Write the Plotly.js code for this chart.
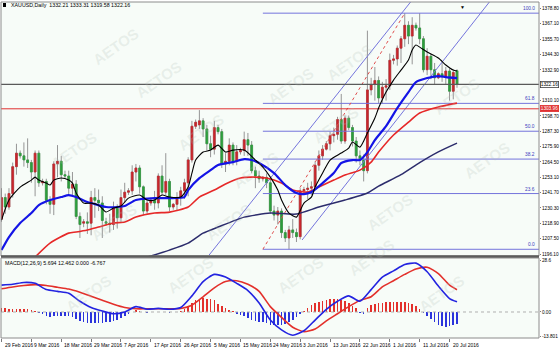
<!DOCTYPE html>
<html><head><meta charset="utf-8">
<script src="https://cdn.plot.ly/plotly-3.0.1.min.js"></script>
<style>html,body{margin:0;padding:0;background:#fff}#chart{width:560px;height:352px}</style>
</head><body><div id="chart"></div>
<script>
// ---- XAUUSD daily bars (index 0 = 29 Feb 2016 ... 122 = 22 Jul 2016, broker has Sunday bars)
const opens  = [1222,1238,1231,1241,1261,1271,1269,1266,1264,1257,1271,1249,1250,1236,1233,1263,1265,1255,1254,1245,1248,1224,1219,1220,1219,1238,1236,1234,1220,1219,1218,1230,1223,1238,1242,1243,1257,1260,1246,1228,1234,1236,1234,1254,1242,1250,1231,1233,1238,1243,1249,1266,1291,1292,1295,1289,1278,1274,1290,1287,1263,1265,1277,1265,1272,1273,1281,1277,1258,1254,1252,1253,1249,1228,1225,1228,1212,1208,1214,1212,1209,1243,1244,1245,1246,1262,1269,1274,1278,1284,1285,1296,1280,1297,1290,1280,1269,1266,1258,1318,1322,1325,1312,1320,1321,1340,1341,1349,1356,1366,1358,1366,1364,1356,1333,1343,1333,1327,1330,1328,1332,1317,1332.21];
const highs  = [1245,1241,1245,1264,1278,1273,1279,1282,1266,1273,1273,1252,1252,1239,1265,1277,1269,1258,1258,1257,1251,1227,1222,1227,1243,1245,1244,1239,1223,1226,1235,1233,1244,1249,1245,1262,1263,1262,1247,1237,1238,1243,1256,1262,1271,1252,1234,1242,1246,1252,1268,1295,1296,1303,1297,1292,1284,1295,1292,1289,1271,1282,1279,1277,1275,1287,1286,1280,1261,1258,1254,1256,1252,1232,1231,1230,1214,1217,1222,1215,1245,1246,1249,1250,1265,1273,1277,1280,1287,1290,1298,1315,1299,1299,1292,1283,1273,1270,1362,1327,1335,1328,1324,1326,1345,1344,1351,1358,1375,1369,1372,1368,1375,1358,1349,1345,1338,1331,1338,1335,1334,1333,1333.31];
const lows   = [1220,1226,1229,1238,1255,1267,1261,1260,1249,1239,1246,1247,1233,1226,1225,1253,1250,1252,1240,1240,1222,1208,1216,1211,1210,1223,1228,1208,1217,1212,1214,1215,1219,1234,1240,1240,1250,1241,1225,1226,1232,1229,1230,1240,1240,1228,1229,1228,1232,1237,1239,1264,1289,1289,1283,1273,1268,1270,1285,1260,1257,1262,1262,1262,1270,1269,1269,1256,1245,1249,1250,1245,1226,1221,1218,1208,1205,1199.6,1208,1205,1207,1240,1237,1240,1244,1258,1266,1273,1273,1279,1281,1278,1278,1288,1276,1264,1262,1250,1256,1314,1310,1308,1308,1310,1318,1337,1336,1338,1350,1352,1337,1362,1352,1331,1329,1326,1322,1326,1324,1322,1310,1311,1319.58];
const closes = [1238,1231,1241,1261,1271,1269,1266,1264,1257,1271,1249,1250,1236,1233,1263,1265,1255,1254,1245,1248,1224,1218,1220,1219,1238,1236,1234,1221,1219,1218,1230,1223,1238,1242,1243,1257,1260,1246,1228,1234,1236,1234,1254,1242,1250,1231,1233,1238,1243,1249,1266,1291,1294,1295,1289,1278,1274,1290,1287,1263,1265,1277,1265,1272,1273,1281,1277,1258,1254,1252,1253,1249,1228,1225,1228,1212,1208,1214,1212,1209,1243,1244,1245,1246,1262,1269,1274,1278,1284,1285,1296,1280,1297,1290,1280,1269,1266,1258,1318,1322,1325,1312,1320,1321,1340,1341,1349,1356,1366,1358,1366,1364,1356,1333,1343,1333,1327,1330,1328,1332,1317,1331,1322.16];

// x-axis tick labels (bar index of each label)
const tickIdx    = [0,8,16,24,32,40,48,56,64,72,80,88,96,104,112,120];
const tickLabels = ['29 Feb 2016','9 Mar 2016','18 Mar 2016','29 Mar 2016','7 Apr 2016','17 Apr 2016','26 Apr 2016','5 May 2016','15 May 2016','24 May 2016','3 Jun 2016','13 Jun 2016','22 Jun 2016','1 Jul 2016','11 Jul 2016','20 Jul 2016'];

// price scale labels
const priceTicks = [1378.8,1367.1,1355.7,1344.3,1332.9,1310.1,1298.7,1287.3,1275.9,1264.5,1253.1,1241.7,1230.3,1218.9,1207.5,1196.1];

// moving averages (bar index, price)
const blackIdx = [0,2,5,8,9,10,12,13,14,16,18,19,20,22,24,26,28,30,32,34,37,39,41,43,45,48,50,51,52,54,56,58,60,62,65,68,70,72,74,75,77,79,81,83,84,86,88,91,93,94,96,98,100,101,103,105,107,109,110,111,112,114,117,119,121,122];
const blackVal = [1221.3,1236.2,1245.8,1251.0,1253.2,1251.0,1248.8,1247.3,1251.0,1252.5,1251.0,1248.8,1241.4,1233.9,1233.9,1232.4,1227.3,1230.2,1231.7,1237.6,1239.9,1236.2,1236.2,1239.9,1238.4,1238.4,1245.8,1256.2,1265.9,1271.8,1273.3,1277.0,1271.8,1273.3,1273.3,1265.9,1260.7,1253.2,1243.6,1236.2,1226.5,1223.5,1233.9,1238.4,1245.8,1256.2,1265.9,1271.1,1274.8,1279.3,1275.5,1285.9,1297.1,1304.5,1316.4,1325.3,1332.7,1340.2,1347.6,1351.3,1349.8,1346.1,1341.7,1336.5,1332.7,1332.0];
const blueIdx  = [0,2,5,8,10,13,16,18,20,23,26,28,31,33,36,41,45,49,50,53,56,58,62,65,67,69,73,76,79,81,83,86,89,91,94,96,98,100,103,106,109,111,114,117,119,122];
const blueVal  = [1199.0,1208.7,1219.1,1226.5,1232.4,1236.2,1238.4,1239.9,1238.4,1234.7,1232.4,1231.0,1231.0,1231.7,1236.2,1237.6,1237.6,1238.4,1243.6,1252.5,1258.4,1262.2,1264.4,1266.6,1265.9,1263.7,1256.2,1247.3,1241.4,1240.6,1242.1,1248.8,1256.2,1263.7,1265.9,1265.9,1271.8,1280.7,1291.1,1304.5,1316.4,1323.8,1326.8,1328.3,1327.5,1326.8];
const redIdx   = [9,13,18,20,23,26,30,33,36,41,45,50,53,57,60,64,67,71,75,78,82,85,89,92,96,99,101,105,109,112,117,122];
const redVal   = [1193.8,1204.2,1211.6,1212.4,1213.9,1216.1,1219.1,1219.8,1223.5,1226.5,1227.2,1231.0,1238.4,1243.6,1248.1,1252.5,1253.2,1252.5,1248.8,1243.6,1242.1,1245.8,1251.0,1254.7,1258.4,1264.4,1271.8,1284.5,1294.1,1300.8,1305.3,1308.2];
const navyIdx  = [39,45,50,54,58,65,72,79,85,92,98,101,107,112,117,122];
const navyVal  = [1193.8,1199.0,1204.2,1211.6,1216.1,1223.5,1226.5,1225.8,1231.0,1236.2,1241.4,1246.5,1255.0,1264.0,1272.0,1278.5];

// horizontal price lines
const bidPrice = 1322.16;
const levelPrice = 1303.96;

// Fibonacci retracement (anchors) and levels
const fibIdx = [70, 108];
const fibPrice = [1199.6, 1375.0];
const fibLevels = [0.0, 23.6, 38.2, 50.0, 61.8, 100.0];
const fibLabels = ['0.0','23.6','38.2','50.0','61.8','100.0'];

// channel lines (bar index, price)
const chanAIdx = [55.6, 110.0];
const chanAPrice = [1195.3, 1384.8];
const chanBIdx = [80.5, 131.1];
const chanBPrice = [1206.5, 1384.8];

// MACD(12,26,9)
const macdIdx    = [0,3,6,9,12,15,18,21,24,27,30,33,36,39,42,45,48,51,54,57,60,63,66,69,72,75,78,81,84,87,90,93,96,99,102,105,108,111,114,117,120,122];
const macdMain   = [15.0,15.5,16.5,16.0,12.5,11.5,10.5,6.0,2.5,0.5,-1.0,0.0,3.0,1.5,2.0,1.5,2.5,9.0,17.0,21.0,19.5,16.0,12.0,5.0,-4.5,-10.0,-13.0,-10.5,-4.5,1.5,6.0,9.0,6.0,12.5,19.5,23.0,26.5,27.3,22.5,14.5,7.5,5.694];
const macdSignal = [13.0,14.0,14.8,15.3,14.8,13.8,12.8,11.0,8.8,6.5,4.3,2.5,1.8,1.8,1.8,1.8,2.0,3.8,8.5,13.5,17.0,17.5,15.5,11.5,3.0,-3.0,-8.5,-11.0,-9.5,-5.0,-1.0,3.0,6.5,8.5,14.0,17.5,21.0,24.0,25.0,21.5,15.0,12.462];
const macdHist = [
2.0,2.0,1.8,1.5,1.6,1.7,1.7,1.4,1.0,0.7,
-0.5,-1.2,-2.3,-2.8,-2.5,-2.3,-2.2,-2.2,-2.3,-3.0,
-4.0,-5.0,-5.8,-6.3,-6.3,-6.2,-6.0,-6.0,-5.6,-5.4,
-5.3,-4.5,-3.5,-2.5,-1.2,0.2,1.2,0.8,0.0,-0.3,
-0.2,0.0,0.2,0.0,0.0,-0.3,-0.2,0.0,0.5,1.5,
3.2,5.2,6.5,7.5,8.0,7.5,7.0,6.5,4.5,3.5,
2.5,1.2,0.3,-1.0,-1.5,-2.2,-3.5,-4.2,-5.0,-5.5,
-5.8,-6.3,-7.0,-7.2,-7.5,-7.0,-6.5,-5.5,-4.5,-3.0,
-1.0,0.8,2.5,3.8,5.0,5.8,6.3,6.5,7.0,7.2,
7.0,6.5,6.0,5.0,3.5,2.0,-0.5,-1.0,2.5,4.0,
4.5,5.0,5.3,5.5,5.5,5.5,5.6,5.6,5.5,5.0,
4.3,3.3,1.8,-0.3,-2.5,-4.0,-5.5,-7.0,-7.6,-8.2,
-8.0,-7.4,-6.767];
const macdTicks = [28.6, 0, -13.801];
const macdTickText = ['28.6', '0.00', '-13.801'];

// ---------------- drawing ----------------
const barIdx = opens.map((_, i) => i);
const XR = [-0.134, 143.96];
const FONT = 'Liberation Sans, Arial, sans-serif';
const FIBC = '#7474dc';
const UPC = '#c8262c', DNC = '#2d9f3c';

const traces = [];
// wicks (grey) then bodies (coloured, no wick)
traces.push({type:'candlestick', x:barIdx, open:opens, high:highs, low:lows, close:closes,
  increasing:{line:{color:'#959595', width:1}, fillcolor:'#959595'},
  decreasing:{line:{color:'#959595', width:1}, fillcolor:'#959595'},
  whiskerwidth:0, hoverinfo:'skip', showlegend:false, xaxis:'x', yaxis:'y'});
traces.push({type:'candlestick', x:barIdx, open:opens, close:closes,
  high:opens.map((o, i) => Math.max(o, closes[i])), low:opens.map((o, i) => Math.min(o, closes[i])),
  increasing:{line:{color:UPC, width:0.6}, fillcolor:UPC},
  decreasing:{line:{color:DNC, width:0.6}, fillcolor:DNC},
  whiskerwidth:0, hoverinfo:'skip', showlegend:false, xaxis:'x', yaxis:'y'});

function hline(y, color, width, dash, x0) {
  return {type:'scatter', mode:'lines', x:[x0 === undefined ? XR[0] : x0, XR[1]], y:[y, y],
    line:{color:color, width:width, dash:dash || 'solid'}, hoverinfo:'skip', showlegend:false, xaxis:'x', yaxis:'y'};
}
fibLevels.forEach(l => traces.push(hline(fibPrice[0] + l / 100 * (fibPrice[1] - fibPrice[0]), FIBC, 1, 'solid', fibIdx[0])));
[[chanAIdx, chanAPrice], [chanBIdx, chanBPrice]].forEach(c => traces.push({type:'scatter', mode:'lines', x:c[0], y:c[1],
  line:{color:FIBC, width:1}, hoverinfo:'skip', showlegend:false, xaxis:'x', yaxis:'y'}));
traces.push({type:'scatter', mode:'lines', x:fibIdx, y:fibPrice, line:{color:'#e05050', width:1, dash:'dot'},
  hoverinfo:'skip', showlegend:false, xaxis:'x', yaxis:'y'});
traces.push(hline(levelPrice, '#e03030', 1));
traces.push(hline(bidPrice, '#5a5a5a', 1.2));

function ma(xs, ys, color, width) {
  return {type:'scatter', mode:'lines', x:xs, y:ys, line:{color:color, width:width, shape:'spline', smoothing:0.6},
    hoverinfo:'skip', showlegend:false, xaxis:'x', yaxis:'y'};
}
traces.push(ma(navyIdx, navyVal, '#2c2c6c', 1.5));
traces.push(ma(redIdx, redVal, '#e62828', 1.6));
traces.push(ma(blueIdx, blueVal, '#1414e6', 2.2));
traces.push(ma(blackIdx, blackVal, '#000000', 1.1));

// MACD
traces.push({type:'scatter', mode:'lines', x:XR, y:[0, 0], line:{color:'#b0b0b0', width:1, dash:'dot'},
  hoverinfo:'skip', showlegend:false, xaxis:'x', yaxis:'y2'});
traces.push({type:'bar', x:barIdx, y:macdHist, width:0.42,
  marker:{color:macdHist.map(v => v >= 0 ? '#e3302b' : '#2b34dc'), line:{width:0}},
  hoverinfo:'skip', showlegend:false, xaxis:'x', yaxis:'y2'});
traces.push({type:'scatter', mode:'lines', x:macdIdx, y:macdSignal, line:{color:'#e3302b', width:1.6, shape:'spline', smoothing:0.6},
  hoverinfo:'skip', showlegend:false, xaxis:'x', yaxis:'y2'});
traces.push({type:'scatter', mode:'lines', x:macdIdx, y:macdMain, line:{color:'#2323e0', width:1.6, shape:'spline', smoothing:0.6},
  hoverinfo:'skip', showlegend:false, xaxis:'x', yaxis:'y2'});

const MAIN_DOM = [0.244, 1];
const MACD_DOM = [0, 0.2381];
const AX_FONT = {family:FONT, size:4.7, color:'#000'};

const annotations = [];
const wm = [[87,22],[130,55],[45,150],[172,132],[85,222],[228,222],[290,62],[335,125],[485,72],[515,160],[418,212],[400,282],[190,300],[60,318],[300,300],[255,170],[378,38],[470,318]];
wm.forEach(p => annotations.push({xref:'paper', yref:'paper', x:(p[0] - 1) / 538, y:(338 - p[1]) / 336,
  text:'<b>AETOS</b>', showarrow:false, textangle:-35, font:{family:FONT, size:15, color:'rgba(175,188,182,0.22)'}}));
annotations.push({xref:'paper', yref:'paper', x:8 / 538, y:(338 - 5) / 336, xanchor:'left', yanchor:'middle',
  text:'XAUUSD,Daily  1332.21 1333.31 1319.58 1322.16', showarrow:false, font:{family:FONT, size:5.3, color:'#000'}});
annotations.push({xref:'paper', yref:'paper', x:2 / 538, y:(338 - 263) / 336, xanchor:'left', yanchor:'middle',
  text:'MACD(12,26,9) 5.694 12.462 0.000 -6.767', showarrow:false, font:{family:FONT, size:5.3, color:'#000'}});
tickIdx.forEach((t, k) => annotations.push({xref:'x', yref:'paper', x:t, y:-7 / 336, xanchor:'left', yanchor:'middle', xshift:1,
  text:tickLabels[k], showarrow:false, font:{family:FONT, size:5, color:'#000'}}));
fibLevels.forEach((l, k) => annotations.push({xref:'paper', yref:'y', x:0.996, y:fibPrice[0] + l / 100 * (fibPrice[1] - fibPrice[0]),
  xanchor:'right', yanchor:'bottom', text:fibLabels[k], showarrow:false, font:{family:FONT, size:4.8, color:'#3c3cc0'}}));
annotations.push({xref:'paper', yref:'y', x:1, xshift:1, y:bidPrice, xanchor:'left', yanchor:'middle', text:bidPrice.toFixed(2),
  showarrow:false, bgcolor:'#ffffff', bordercolor:'#404040', borderwidth:0.8, borderpad:0, font:AX_FONT});
annotations.push({xref:'paper', yref:'y', x:1, xshift:1, y:levelPrice, xanchor:'left', yanchor:'middle', text:levelPrice.toFixed(2),
  showarrow:false, bgcolor:'#e03030', bordercolor:'#e03030', borderwidth:0.8, borderpad:0, font:{family:FONT, size:4.7, color:'#fff'}});
annotations.push({xref:'x', yref:'paper', x:123.6, y:1, yanchor:'top', text:'▼', showarrow:false, font:{size:5, color:'#000'}});

const shapes = [
  {type:'rect', xref:'paper', yref:'paper', x0:0, x1:1, y0:MAIN_DOM[0], y1:1, line:{color:'#8c8c8c', width:1}},
  {type:'rect', xref:'paper', yref:'paper', x0:0, x1:1, y0:MACD_DOM[0], y1:MACD_DOM[1], line:{color:'#8c8c8c', width:1}},
  {type:'line', xref:'paper', yref:'paper', x0:0, x1:1, y0:(338 - 256.5) / 336, y1:(338 - 256.5) / 336, line:{color:'#5c5c5c', width:2.5}},
  {type:'rect', xref:'paper', yref:'paper', x0:2 / 538, x1:5 / 538, y0:(338 - 7) / 336, y1:(338 - 3) / 336, fillcolor:'#000', line:{width:0}}
];

const layout = {
  width:560, height:352,
  margin:{l:1, r:21, t:2, b:14},
  paper_bgcolor:'#ffffff', plot_bgcolor:'#f7fcf8',
  showlegend:false, hovermode:false, dragmode:false,
  font:{family:FONT, size:5, color:'#000'},
  xaxis:{range:XR, anchor:'y2', domain:[0, 1], showgrid:false, zeroline:false, showline:false,
    tickvals:tickIdx, ticks:'outside', ticklen:3, tickcolor:'#7a7a7a', showticklabels:false,
    rangeslider:{visible:false}, fixedrange:true},
  yaxis:{domain:MAIN_DOM, range:[1194.6, 1383.3], side:'right', anchor:'x', showgrid:false, zeroline:false,
    showline:false, tickvals:priceTicks, ticktext:priceTicks.map(v => v.toFixed(2)), ticks:'outside', ticklen:1,
    tickcolor:'#7a7a7a', tickfont:AX_FONT, fixedrange:true},
  yaxis2:{domain:MACD_DOM, range:[-14.53, 30.17], side:'right', anchor:'x', showgrid:false, zeroline:false,
    showline:false, tickvals:macdTicks, ticktext:macdTickText, ticks:'outside', ticklen:1,
    tickcolor:'#7a7a7a', tickfont:AX_FONT, fixedrange:true},
  bargap:0,
  annotations:annotations,
  shapes:shapes
};

Plotly.newPlot('chart', traces, layout, {staticPlot:true, displayModeBar:false});
</script>
</body></html>
